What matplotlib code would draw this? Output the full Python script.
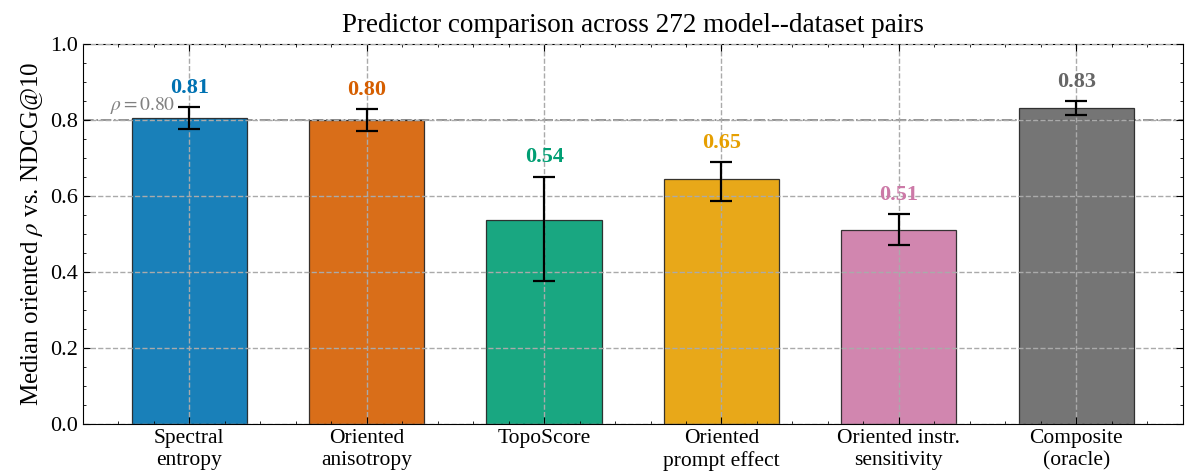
import matplotlib
matplotlib.use("Agg")
import matplotlib.pyplot as plt
import numpy as np

# Data
predictors = ["Spectral\nentropy", "Oriented\nanisotropy", "TopoScore",
              "Oriented\nprompt effect", "Oriented instr.\nsensitivity",
              "Composite\n(oracle)"]
medians = [0.806, 0.800, 0.537, 0.645, 0.511, 0.833]
ci_low = [0.776, 0.771, 0.376, 0.587, 0.471, 0.813]
ci_high = [0.834, 0.829, 0.651, 0.689, 0.553, 0.849]
value_labels = ["0.81", "0.80", "0.54", "0.65", "0.51", "0.83"]
colors = ["#0072B2", "#D55E00", "#009E73", "#E69F00", "#CC79A7", "#666666"]
ref_rho = 0.80

plt.rcParams.update({
    "font.family": "Liberation Serif",
    "mathtext.fontset": "stix",
    "xtick.direction": "in",
    "ytick.direction": "in",
    "xtick.top": True,
    "ytick.right": True,
    "xtick.minor.visible": True,
    "ytick.minor.visible": True,
    "xtick.major.size": 5,
    "ytick.major.size": 5,
    "xtick.minor.size": 2.5,
    "ytick.minor.size": 2.5,
})

fig, ax = plt.subplots(figsize=(11.85, 4.74), dpi=100)
x = np.arange(len(predictors))
med = np.array(medians)
yerr = [med - np.array(ci_low), np.array(ci_high) - med]

ax.bar(x, med, width=0.65, color=colors, alpha=0.9, edgecolor="#222222",
       linewidth=0.9, zorder=2)
ax.errorbar(x, med, yerr=yerr, fmt="none", ecolor="black", elinewidth=1.6,
            capsize=8, capthick=1.6, zorder=4)

for xi, hi, lab, c in zip(x, ci_high, value_labels, colors):
    ax.text(xi, hi + 0.025, lab, ha="center", va="bottom", color=c,
            fontsize=16, fontweight="bold", zorder=5)

ax.axhline(ref_rho, color="gray", linestyle="-.", linewidth=1.2, zorder=1)
ax.text(-0.45, ref_rho + 0.012, r"$\rho = 0.80$", color="gray", fontsize=14,
        ha="left", va="bottom")

ax.set_xticks(x)
ax.set_xticklabels(predictors, fontsize=15.5)
ax.set_xlim(-0.6, 5.6)
ax.set_ylim(0, 1.0)
ax.set_yticks([0, 0.2, 0.4, 0.6, 0.8, 1.0])
ax.tick_params(axis="y", labelsize=16)
ax.set_ylabel(r"Median oriented $\rho$ vs. NDCG@10", fontsize=18)
ax.set_title("Predictor comparison across 272 model--dataset pairs",
             fontsize=19.5, pad=9)
ax.grid(True, linestyle="--", color="#aaaaaa", linewidth=1.0, zorder=0)
ax.set_axisbelow(False)

plt.subplots_adjust(left=0.07, right=0.998, top=0.907, bottom=0.105)
plt.savefig("out.png", dpi=100)
